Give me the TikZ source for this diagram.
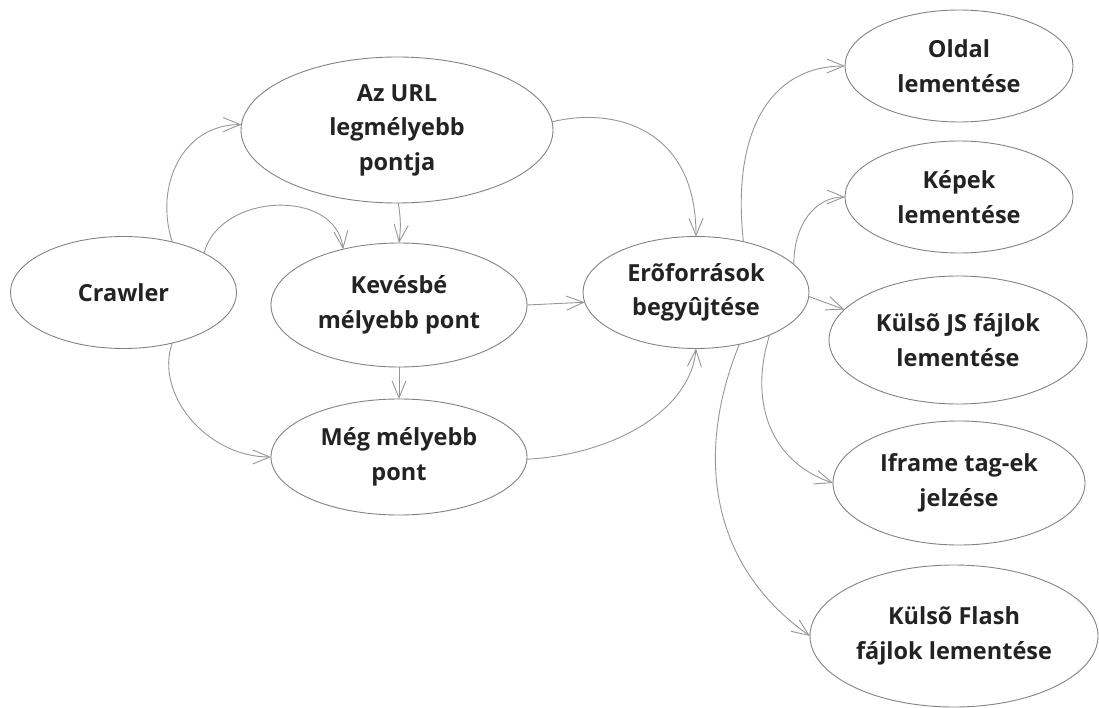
\documentclass[tikz,border=0pt]{standalone}
\usepackage{fontspec}
\setmainfont{Open Sans}
\usetikzlibrary{shapes.geometric,arrows.meta}
\definecolor{edgec}{RGB}{150,150,150}
\definecolor{bordc}{RGB}{130,130,130}
\definecolor{txtc}{RGB}{35,35,35}
\tikzset{
  el/.style={ellipse, draw=bordc, line width=0.9pt, inner sep=0pt, outer sep=0pt, align=center,
    text=txtc, font=\fontsize{23.5}{34.5}\selectfont\bfseries},
  arr/.style={draw=edgec, line width=0.9pt, -{Straight Barb[length=17pt,width=14pt]}}
}
\begin{document}
\begin{tikzpicture}[x=1pt,y=-1pt]
\useasboundingbox (0,0) rectangle (1099,708);
\node[el, minimum width=226pt, minimum height=112pt] (crawler) at (123.5,292.5) {Crawler};
\node[el, minimum width=312pt, minimum height=146pt] (url) at (397,130) {Az URL\\legmélyebb\\pontja};
\node[el, minimum width=256pt, minimum height=124pt] (kev) at (399,305) {Kevésbé\\mélyebb pont};
\node[el, minimum width=256pt, minimum height=116pt] (meg) at (399,457) {Még mélyebb\\pont};
\node[el, minimum width=226pt, minimum height=112pt] (ero) at (696,292.5) {Erõforrások\\begyûjtése};
\node[el, minimum width=228pt, minimum height=112pt] (oldal) at (959,66) {Oldal\\lementése};
\node[el, minimum width=228pt, minimum height=112pt] (kepek) at (959,197) {Képek\\lementése};
\node[el, minimum width=258pt, minimum height=128pt] (js) at (958,340) {Külsõ JS fájlok\\lementése};
\node[el, minimum width=252pt, minimum height=124pt] (iframe) at (959,483) {Iframe tag-ek\\jelzése};
\node[el, minimum width=288pt, minimum height=142pt] (flash) at (954,636) {Külsõ Flash\\fájlok lementése};

\draw[arr] (crawler.46) .. controls +(-18,-55) and +(-60,0) .. (url.178);
\draw[arr] (crawler.26) .. controls +(15,-60) and +(-8,-62) .. (kev.135);
\draw[arr] (crawler.-46) .. controls +(-18,50) and +(-65,0) .. (meg.west);
\draw[arr] (url.-89) to[bend left=8] (kev.north);
\draw[arr] (kev.south) -- (meg.north);
\draw[arr] (url.3) .. controls +(60,-15) and +(0,-110) .. (ero.north);
\draw[arr] (kev.east) -- (ero.185);
\draw[arr] (meg.-1) .. controls +(90,-5) and +(-5,60) .. (ero.south);
\draw[arr] (ero.47) .. controls +(-12,-110) and +(-75,0) .. (oldal.west);
\draw[arr] (ero.16) .. controls +(0,-40) and +(-30,0) .. (kepek.west);
\draw[arr] (ero.-2) -- (js.165);
\draw[arr] (ero.-30) .. controls +(-22,70) and +(-60,-20) .. (iframe.west);
\draw[arr] (ero.-50) .. controls +(-45,110) and +(-100,-70) .. (flash.west);
\end{tikzpicture}
\end{document}
